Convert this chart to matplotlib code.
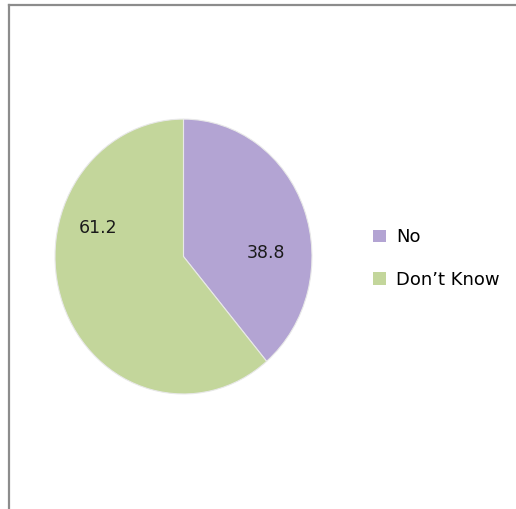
import matplotlib
matplotlib.use("Agg")
import matplotlib.pyplot as plt
from matplotlib.lines import Line2D
from matplotlib.patches import Patch

categories = ["No", "Don\u2019t Know"]
values = [38.8, 61.2]
colors = ["#B3A4D3", "#C3D69B"]

# label spots inside the pie (radius = 1), placed like the original
label_pos = [(0.64, 0.025), (-0.665, 0.21)]

plt.rcParams.update({"font.family": "DejaVu Sans", "font.size": 12})

fig = plt.figure(figsize=(5.16, 5.09), dpi=100)
fig.patch.set_facecolor("white")

# frame: only top and left edges visible
fig.add_artist(Line2D([8.5 / 516, 8.5 / 516], [0, 1 - 4.5 / 509],
                      color="#8C8C8C", linewidth=1.6, transform=fig.transFigure))
fig.add_artist(Line2D([8.5 / 516, 1], [1 - 4.5 / 509, 1 - 4.5 / 509],
                      color="#8C8C8C", linewidth=1.6, transform=fig.transFigure))

# the original pie is slightly taller than wide
ax = fig.add_axes([0.1066, 0.226, 0.498, 0.540])
wedges, _ = ax.pie(
    values,
    colors=colors,
    startangle=90,
    counterclock=False,
    radius=1.0,
    wedgeprops={"edgecolor": "#E8E8E8", "linewidth": 0.8},
)
for (x, y), v in zip(label_pos, values):
    ax.text(x, y, f"{v:.1f}", ha="center", va="center", fontsize=12.5, color="#1A1A1A")
ax.set_xlim(-1, 1)
ax.set_ylim(-1, 1)
ax.set_aspect("auto")
ax.axis("off")

handles = [Patch(facecolor=c, edgecolor="none") for c in colors]
fig.legend(
    handles,
    categories,
    loc="center left",
    bbox_to_anchor=(0.692, 0.492),
    frameon=False,
    handlelength=0.7,
    handleheight=0.7,
    handletextpad=0.55,
    labelspacing=1.35,
    fontsize=13,
)

fig.savefig("out.png", dpi=100)
